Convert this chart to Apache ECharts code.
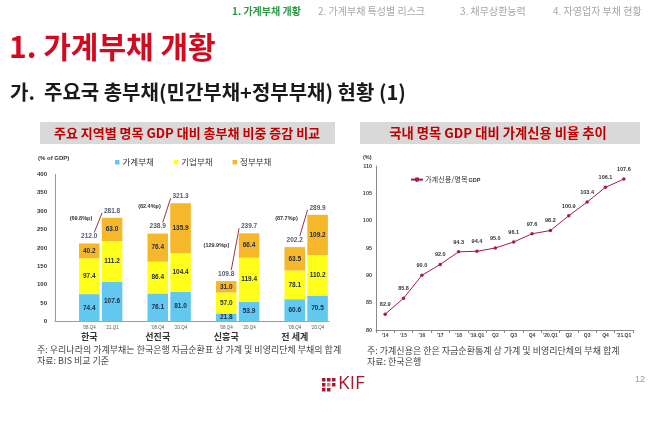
<!DOCTYPE html>
<html><head><meta charset="utf-8">
<script src="https://cdn.jsdelivr.net/npm/echarts@6/dist/echarts.min.js"></script>
<style>html,body{margin:0;padding:0;background:#fff}#c{width:658px;height:421px}</style>
</head><body><div id="c"></div>
<script>
// ---- data: left chart ----
const groups = ['한국', '선진국', '신흥국', '전 세계'];
const periods = [["'08.Q4", "'21.Q1"], ["'08.Q4", "'20.Q4"], ["'08.Q4", "'20.Q4"], ["'08.Q4", "'20.Q4"]];
const household = [74.4, 107.6, 76.1, 81.0, 21.8, 53.9, 60.6, 70.5];
const corporate = [97.4, 111.2, 86.4, 104.4, 57.0, 119.4, 78.1, 110.2];
const government = [40.2, 63.0, 76.4, 135.9, 31.0, 66.4, 63.5, 109.2];
const totals = [212.0, 281.8, 238.9, 321.3, 109.8, 239.7, 202.2, 289.9];
const changes = ['69.8', '82.4', '129.9', '87.7'];
const seriesNames = ['가계부채', '기업부채', '정부부채'];
// ---- data: right chart ----
const creditCats = ["'14", "'15", "'16", "'17", "'18", "'19.Q1", "Q2", "Q3", "Q4", "'20.Q1", "Q2", "Q3", "Q4", "'21.Q1"];
const creditRatio = [82.9, 85.8, 90.0, 92.0, 94.3, 94.4, 95.0, 96.1, 97.6, 98.2, 100.9, 103.4, 106.1, 107.6];
const creditName = '가계신용/명목GDP';

const FONT = "'Noto Sans CJK KR', 'Noto Sans', sans-serif";

// build slotted category axis: [gap, bar1, bar2] per group
const slotCats = [], slotLabels = [], barSlots = [];
groups.forEach((g, i) => {
  slotCats.push('gap' + i); slotLabels.push(null);
  periods[i].forEach((p, j) => {
    barSlots.push(slotCats.length);
    slotCats.push(g + '|' + p);
    slotLabels.push({ p: p, g: j === 0 ? g : '' });
  });
});
function slotted(arr) {
  const out = slotCats.map(() => null);
  barSlots.forEach((s, k) => { out[s] = arr[k]; });
  return out;
}
const annot = groups.map((g, i) => [barSlots[2 * i], barSlots[2 * i + 1], totals[2 * i], totals[2 * i + 1], i]);

const colors = ['#62c8f0', '#ffff1a', '#f6b72b'];
const segData = [household, corporate, government];

const chart = echarts.init(document.getElementById('c'), null, { renderer: 'canvas' });

const barSeries = seriesNames.map((n, k) => ({
  name: n, type: 'bar', stack: 'debt', xAxisIndex: 0, yAxisIndex: 0,
  data: slotted(segData[k]), barCategoryGap: '10%',
  itemStyle: { color: colors[k] },
  label: { show: true, position: 'inside', fontSize: 6.5, fontWeight: 'bold', color: '#1b2a4a', fontFamily: 'Arial, sans-serif',
    formatter: p => p.value == null ? '' : p.value.toFixed(1) }
}));

const option = {
  animation: false,
  backgroundColor: '#fff',
  textStyle: { fontFamily: FONT },
  grid: [
    { left: 55, top: 174.3, width: 274, height: 147.2 },
    { left: 376, top: 166, width: 257, height: 164 }
  ],
  legend: [
    { data: seriesNames.map(n => ({ name: n })), left: 110, top: 153, icon: 'rect', itemWidth: 4.5, itemHeight: 4.5, itemGap: 20,
      textStyle: { fontSize: 8.5, color: '#333', fontFamily: FONT, padding: [0, 0, 0, -2] } },
    { data: [{ name: creditName }], left: 405, top: 171, itemWidth: 12, itemHeight: 6, itemGap: 4,
      formatter: () => '{a|가계신용/명목}{b|GDP}',
      textStyle: { color: '#333', fontFamily: FONT, padding: [0, 0, 0, -3],
        rich: { a: { fontSize: 7.2, color: '#333', fontFamily: FONT }, b: { fontSize: 5.5, color: '#333', fontWeight: 'bold', fontFamily: 'Arial', padding: [2, 0, 0, 1] } } } }
  ],
  xAxis: [
    { type: 'category', gridIndex: 0, data: slotCats,
      axisLine: { lineStyle: { color: '#9a9a9a', width: 1 } }, axisTick: { show: false },
      axisLabel: { interval: 0, margin: 3, fontFamily: FONT,
        formatter: (v, i) => { const l = slotLabels[i]; return l ? '{s|' + l.p + '}\n{g|' + (l.g || ' ') + '}' : ''; },
        rich: { s: { fontSize: 4.5, color: '#555', lineHeight: 6, fontFamily: 'Arial' },
                g: { fontSize: 9, fontWeight: 'bold', color: '#333', lineHeight: 13, fontFamily: FONT } } } },
    { type: 'category', gridIndex: 1, data: creditCats, boundaryGap: true,
      axisLine: { lineStyle: { color: '#8a8a8a', width: 1 } },
      axisTick: { show: true, length: 3, lineStyle: { color: '#8a8a8a' } },
      axisLabel: { interval: 0, margin: 3.5, fontSize: 5, fontWeight: 'bold', color: '#444', fontFamily: 'Arial' } }
  ],
  yAxis: [
    { type: 'value', gridIndex: 0, min: 0, max: 400, interval: 50,
      axisLine: { show: true, lineStyle: { color: '#9a9a9a' } }, axisTick: { show: false }, splitLine: { show: false },
      axisLabel: { fontSize: 6, fontWeight: 'bold', color: '#333', margin: 8, fontFamily: 'Arial' } },
    { type: 'value', gridIndex: 1, min: 80, max: 110, interval: 5,
      axisLine: { show: true, lineStyle: { color: '#8a8a8a' } }, axisTick: { show: false }, splitLine: { show: false },
      axisLabel: { fontSize: 5.5, fontWeight: 'bold', color: '#444', margin: 4, fontFamily: 'Arial' } }
  ],
  series: barSeries.concat([
    { name: 'total', type: 'scatter', xAxisIndex: 0, yAxisIndex: 0, data: slotted(totals), symbolSize: 1,
      itemStyle: { color: 'rgba(0,0,0,0)' }, silent: true,
      label: { show: true, position: 'top', distance: 3, fontSize: 6.5, fontWeight: 'bold', color: '#1b2a4a', fontFamily: 'Arial',
        formatter: p => p.value == null ? '' : p.value.toFixed(1) } },
    { name: 'change', type: 'custom', xAxisIndex: 0, yAxisIndex: 0, data: annot, silent: true,
      renderItem: (params, api) => {
        const p1 = api.coord([api.value(0), api.value(2)]);
        const p2 = api.coord([api.value(1), api.value(3)]);
        const x1 = p1[0] + 5, y1 = p1[1] - 11, x2 = p2[0] - 10, y2 = p2[1] - 5;
        return { type: 'group', children: [
          { type: 'line', shape: { x1: x1, y1: y1, x2: x2, y2: y2 }, style: { stroke: '#8e1c3b', lineWidth: 0.9 } },
          { type: 'text', x: x1 - 2, y: (y1 + y2) / 2 - 4,
            style: { text: '(' + changes[api.value(4)] + '%p)', fontSize: 5.5, fontWeight: 'bold', fill: '#333', fontFamily: 'Arial', align: 'right', verticalAlign: 'middle' } }
        ] };
      } },
    { name: creditName, type: 'line', xAxisIndex: 1, yAxisIndex: 1, data: creditRatio,
      symbol: 'circle', symbolSize: 3.5, color: '#a3203f',
      lineStyle: { color: '#a3203f', width: 1 }, itemStyle: { color: '#a3203f' },
      label: { show: true, position: 'top', distance: 5, fontSize: 5.5, fontWeight: 'bold', color: '#333', fontFamily: 'Arial',
        formatter: p => p.value.toFixed(1) } }
  ]),
  graphic: [
    // navigation
    { type: 'text', left: 232, top: 6, style: { text: '1. 가계부채 개황', fontSize: 10, fontWeight: 'bold', fill: '#2a9a45', fontFamily: FONT } },
    { type: 'text', left: 318, top: 6, style: { text: '2. 가계부채 특성별 리스크', fontSize: 10, fill: '#a8a8a8', fontFamily: FONT } },
    { type: 'text', left: 460, top: 6, style: { text: '3. 채무상환능력', fontSize: 10, fill: '#a8a8a8', fontFamily: FONT } },
    { type: 'text', left: 553, top: 6, style: { text: '4. 자영업자 부채 현황', fontSize: 10, fill: '#a8a8a8', fontFamily: FONT } },
    // titles
    { type: 'text', left: 9, top: 32, style: { text: '1. 가계부채 개황', fontSize: 30, fontWeight: 'bold', fill: '#d2091f', fontFamily: FONT } },
    { type: 'text', left: 10, top: 82, style: { text: '가.  주요국 총부채(민간부채+정부부채) 현황 (1)', fontSize: 20, fontWeight: 'bold', fill: '#1a1a1a', fontFamily: FONT } },
    // panel headers
    { type: 'rect', shape: { x: 40, y: 122, width: 295, height: 22 }, style: { fill: '#d9d9d9' } },
    { type: 'text', x: 187, y: 133, style: { text: '주요 지역별 명목 GDP 대비 총부채 비중 증감 비교', fontSize: 13, fontWeight: 'bold', fill: '#c00000', align: 'center', verticalAlign: 'middle', fontFamily: FONT } },
    { type: 'rect', shape: { x: 360, y: 122, width: 280, height: 22 }, style: { fill: '#d9d9d9' } },
    { type: 'text', x: 498, y: 133, style: { text: '국내 명목 GDP 대비 가계신용 비율 추이', fontSize: 13.3, fontWeight: 'bold', fill: '#c00000', align: 'center', verticalAlign: 'middle', fontFamily: FONT } },
    // axis units
    { type: 'text', x: 38, y: 158, style: { text: '(% of GDP)', fontSize: 6, fontWeight: 'bold', fill: '#333', verticalAlign: 'middle', fontFamily: 'Arial' } },
    { type: 'text', x: 363, y: 157, style: { text: '(%)', fontSize: 5.5, fontWeight: 'bold', fill: '#333', verticalAlign: 'middle', fontFamily: 'Arial' } },
    // notes
    { type: 'text', x: 37, y: 350, style: { text: '주: 우리나라의 가계부채는 한국은행 자금순환표 상 가계 및 비영리단체 부채의 합계', fontSize: 9, fill: '#444', verticalAlign: 'middle', fontFamily: FONT } },
    { type: 'text', x: 37, y: 361, style: { text: '자료: BIS 비교 기준', fontSize: 9, fill: '#444', verticalAlign: 'middle', fontFamily: FONT } },
    { type: 'text', x: 367, y: 351, style: { text: '주: 가계신용은 한은 자금순환통계 상 가계 및 비영리단체의 부채 합계', fontSize: 9, fill: '#444', verticalAlign: 'middle', fontFamily: FONT } },
    { type: 'text', x: 367, y: 362, style: { text: '자료: 한국은행', fontSize: 9, fill: '#444', verticalAlign: 'middle', fontFamily: FONT } },
    // KIF logo
    { type: 'group', left: 322, top: 378, children: [
      { type: 'rect', shape: { x: 0, y: 0, width: 3.5, height: 3.5 }, style: { fill: '#a6192e' } },
      { type: 'rect', shape: { x: 5, y: 0, width: 3.5, height: 3.5 }, style: { fill: '#a6192e' } },
      { type: 'rect', shape: { x: 10, y: 0, width: 3.5, height: 3.5 }, style: { fill: '#a6192e' } },
      { type: 'rect', shape: { x: 0, y: 5, width: 3.5, height: 3.5 }, style: { fill: '#a6192e' } },
      { type: 'rect', shape: { x: 5, y: 5, width: 3.5, height: 3.5 }, style: { fill: '#e07a8a' } },
      { type: 'rect', shape: { x: 10, y: 5, width: 3.5, height: 3.5 }, style: { fill: '#a6192e' } },
      { type: 'rect', shape: { x: 0, y: 10, width: 3.5, height: 3.5 }, style: { fill: '#a6192e' } },
      { type: 'rect', shape: { x: 5, y: 10, width: 3.5, height: 3.5 }, style: { fill: '#a6192e' } }
    ] },
    { type: 'text', left: 338, top: 374, style: { text: 'KIF', fontSize: 19, fill: '#a6192e', fontFamily: "'Open Sans', Arial, sans-serif" } },
    { type: 'text', left: 635, top: 375, style: { text: '12', fontSize: 9, fill: '#999', fontFamily: 'Arial' } }
  ]
};
chart.setOption(option);
</script>
</body></html>
